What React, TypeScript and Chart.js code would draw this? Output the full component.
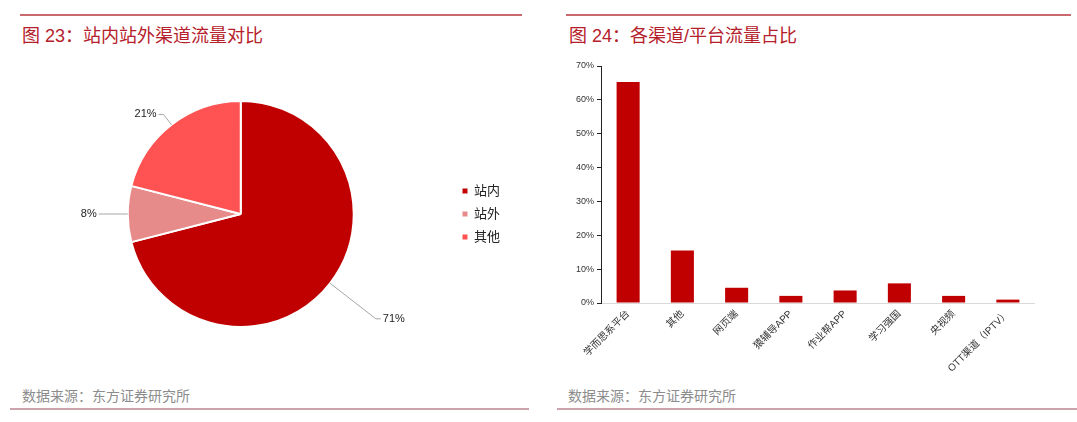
import { useEffect, useRef } from "react";
import { Chart, registerables, ChartConfiguration, Plugin } from "chart.js";

Chart.register(...registerables);

// left: 站内/站外 share of traffic (%)
const channelLabels: string[] = ["站内", "站外", "其他"];
const channelShares: number[] = [71, 8, 21];

// right: traffic share by platform (%)
const platformLabels: string[] = [
  "学而思系平台",
  "其他",
  "网页端",
  "猿辅导APP",
  "作业帮APP",
  "学习强国",
  "央视频",
  "OTT渠道（IPTV）",
];
const platformShares: number[] = [65.3, 15.5, 4.5, 2.1, 3.7, 5.8, 2.1, 1.0];
const shareTicks: number[] = [0, 10, 20, 30, 40, 50, 60, 70];

const FONT = "'Liberation Sans', 'Noto Sans CJK SC', sans-serif";
const pieColors = ["#C00000", "#E68A8A", "#FF5252"];
// how far each leader line runs past the rim
const labelReach = [58, 24, 13];

const pieLabelPlugin: Plugin<"pie"> = {
  id: "pieLabels",
  afterDatasetsDraw(chart) {
    const ctx = chart.ctx;
    const meta = chart.getDatasetMeta(0);
    ctx.save();
    ctx.font = "11px " + FONT;
    ctx.textBaseline = "middle";
    meta.data.forEach((el, i) => {
      const arc: any = el;
      const { x, y, startAngle, endAngle, outerRadius } = arc.getProps(
        ["x", "y", "startAngle", "endAngle", "outerRadius"],
        true
      );
      const mid = (startAngle + endAngle) / 2;
      const cos = Math.cos(mid);
      const sin = Math.sin(mid);
      const x0 = x + cos * outerRadius;
      const y0 = y + sin * outerRadius;
      const d = outerRadius + labelReach[i];
      const x1 = x + cos * d;
      const y1 = y + sin * d;
      const right = cos >= 0;
      const x2 = x1 + (right ? 5 : -5);
      ctx.strokeStyle = "#A6A6A6";
      ctx.lineWidth = 1;
      ctx.beginPath();
      ctx.moveTo(x0, y0);
      ctx.lineTo(x1, y1);
      ctx.lineTo(x2, y1);
      ctx.stroke();
      ctx.fillStyle = "#222";
      ctx.textAlign = right ? "left" : "right";
      ctx.fillText(channelShares[i] + "%", x2 + (right ? 2 : -2), y1);
    });
    ctx.restore();
  },
};

function ChannelPie() {
  const chartRef = useRef<HTMLCanvasElement | null>(null);
  useEffect(() => {
    if (!chartRef.current) return;
    const config: ChartConfiguration<"pie"> = {
      type: "pie",
      data: {
        labels: channelLabels,
        datasets: [
          {
            data: channelShares,
            backgroundColor: pieColors,
            borderColor: "#FFFFFF",
            borderWidth: 2,
            radius: 113,
          },
        ],
      },
      options: {
        responsive: false,
        animation: false,
        layout: { padding: { left: 29, top: 51, bottom: 53, right: 30 } },
        plugins: {
          tooltip: { enabled: false },
          legend: {
            position: "right",
            labels: {
              boxWidth: 5,
              boxHeight: 5,
              padding: 10,
              color: "#222",
              font: { size: 13, family: FONT },
              generateLabels: (c: any) =>
                (Chart.overrides.pie.plugins.legend.labels as any)
                  .generateLabels(c)
                  .map((l: any) => ({ ...l, lineWidth: 0 })),
            },
          },
        },
      },
      plugins: [pieLabelPlugin],
    };
    const chart = new Chart(chartRef.current, config);
    return () => chart.destroy();
  }, []);
  return (
    <canvas
      ref={chartRef}
      width={540}
      height={330}
      style={{ position: "absolute", left: 0, top: 50, width: 540, height: 330 }}
    />
  );
}

function PlatformBars() {
  const chartRef = useRef<HTMLCanvasElement | null>(null);
  useEffect(() => {
    if (!chartRef.current) return;
    const config: ChartConfiguration<"bar"> = {
      type: "bar",
      data: {
        labels: platformLabels,
        datasets: [
          {
            data: platformShares,
            backgroundColor: "#C00000",
            categoryPercentage: 0.5,
            barPercentage: 0.85,
          },
        ],
      },
      options: {
        responsive: false,
        animation: false,
        layout: { padding: { top: 10, left: 0, right: 0, bottom: 0 } },
        plugins: { legend: { display: false }, tooltip: { enabled: false } },
        scales: {
          x: {
            grid: { display: false, drawTicks: false },
            border: { display: true, color: "#D9D9D9", width: 1 },
            ticks: {
              autoSkip: false,
              minRotation: 45,
              maxRotation: 45,
              padding: 5,
              color: "#333",
              font: { size: 10, family: FONT },
            },
            afterFit: (s: any) => {
              s.height = 80;
            },
          },
          y: {
            min: shareTicks[0],
            max: shareTicks[shareTicks.length - 1],
            grid: {
              display: true,
              drawOnChartArea: false,
              drawTicks: true,
              tickLength: 4,
              color: "#222",
            },
            border: { display: true, color: "#222", width: 1 },
            ticks: {
              stepSize: shareTicks[1] - shareTicks[0],
              callback: (v: any) => v + "%",
              color: "#333",
              padding: 3,
              font: { size: 9, family: FONT },
            },
            afterFit: (s: any) => {
              s.width = 41;
            },
          },
        },
      },
    };
    const chart = new Chart(chartRef.current, config);
    return () => chart.destroy();
  }, []);
  return (
    <canvas
      ref={chartRef}
      width={475}
      height={327}
      style={{ position: "absolute", left: 560, top: 56, width: 475, height: 327 }}
    />
  );
}

const titleStyle: React.CSSProperties = {
  position: "absolute",
  top: 24,
  fontSize: 18,
  lineHeight: "24px",
  color: "#B5202A",
  whiteSpace: "nowrap",
};
const sourceStyle: React.CSSProperties = {
  position: "absolute",
  top: 386,
  fontSize: 14,
  lineHeight: "20px",
  color: "#8C8C8C",
  whiteSpace: "nowrap",
};

export default function App() {
  return (
    <div
      style={{
        position: "absolute",
        left: 0,
        top: 0,
        width: 1077,
        height: 422,
        background: "#FFFFFF",
        fontFamily: FONT,
        overflow: "hidden",
      }}
    >
      <div style={{ position: "absolute", left: 20, top: 14, width: 502, height: 2, background: "#C86A6E" }} />
      <div style={{ position: "absolute", left: 566, top: 14, width: 505, height: 2, background: "#C86A6E" }} />
      <div style={{ ...titleStyle, left: 22 }}>图 23：站内站外渠道流量对比</div>
      <div style={{ ...titleStyle, left: 569 }}>图 24：各渠道/平台流量占比</div>
      <ChannelPie />
      <PlatformBars />
      <div style={{ ...sourceStyle, left: 22 }}>数据来源：东方证券研究所</div>
      <div style={{ ...sourceStyle, left: 568 }}>数据来源：东方证券研究所</div>
      <div style={{ position: "absolute", left: 10, top: 408, width: 519, height: 2, background: "#CBA3AC" }} />
      <div style={{ position: "absolute", left: 557, top: 408, width: 520, height: 2, background: "#CBA3AC" }} />
    </div>
  );
}
